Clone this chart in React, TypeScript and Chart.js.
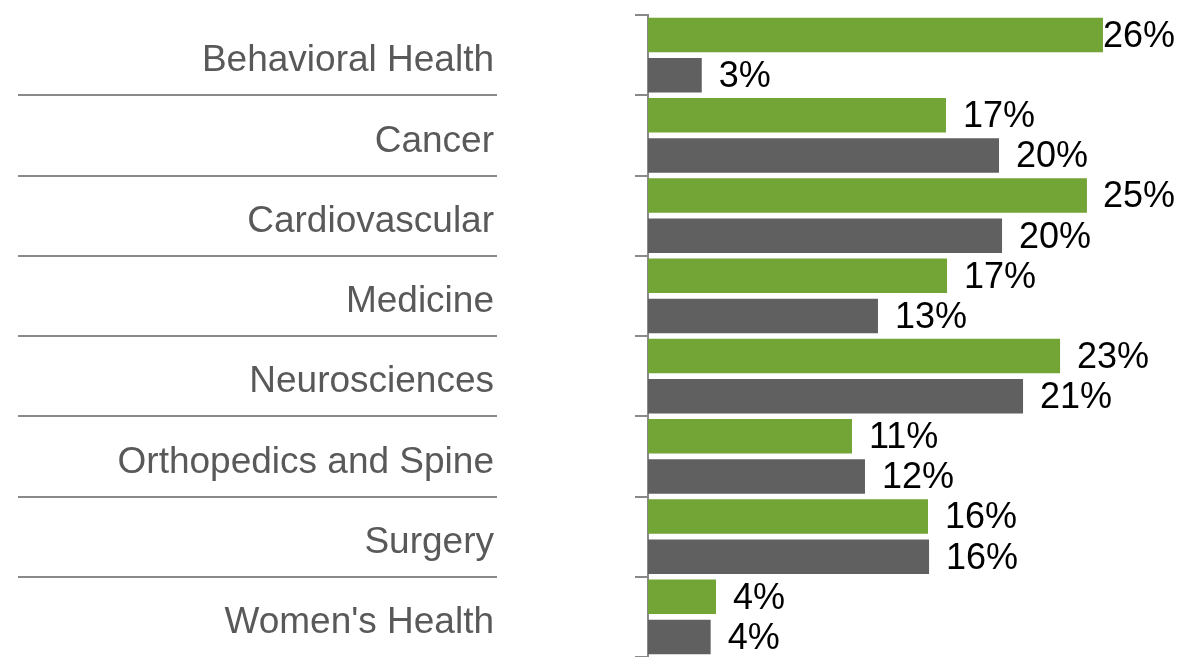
import React, { useEffect, useRef } from "react";
import { Chart, registerables } from "chart.js";

Chart.register(...registerables);

const categories = [
  "Behavioral Health",
  "Cancer",
  "Cardiovascular",
  "Medicine",
  "Neurosciences",
  "Orthopedics and Spine",
  "Surgery",
  "Women's Health",
];
const greenValues = [25.56, 16.74, 24.66, 16.8, 23.15, 11.46, 15.73, 3.82];
const grayValues = [3.02, 19.72, 19.89, 12.92, 21.07, 12.19, 15.79, 3.52];

const GREEN = "#72A536";
const GRAY = "#606060";
const LINE = "#898989";
const FONT = "'Liberation Sans', Arial, sans-serif";

const decorPlugin = {
  id: "decor",
  afterDraw(chart: any) {
    const ctx = chart.ctx;
    const yScale = chart.scales.y;
    const n = categories.length;
    ctx.save();
    ctx.strokeStyle = LINE;
    ctx.lineWidth = 2;
    for (let i = 1; i < n; i++) {
      const y = (yScale.getPixelForValue(i - 1) + yScale.getPixelForValue(i)) / 2;
      ctx.beginPath();
      ctx.moveTo(18, Math.round(y));
      ctx.lineTo(497, Math.round(y));
      ctx.stroke();
    }
    // category labels
    ctx.font = "37px " + FONT;
    ctx.fillStyle = "#595959";
    ctx.textAlign = "right";
    ctx.textBaseline = "middle";
    categories.forEach((c, i) => {
      ctx.fillText(c, 494, yScale.getPixelForValue(i) + 6);
    });
    // value labels
    ctx.font = "36px " + FONT;
    ctx.fillStyle = "#000000";
    ctx.textAlign = "left";
    chart.data.datasets.forEach((ds: any, di: number) => {
      const meta = chart.getDatasetMeta(di);
      meta.data.forEach((bar: any, i: number) => {
        const txt = Math.round(ds.data[i]) + "%";
        const w = ctx.measureText(txt).width;
        let x = bar.x + 17;
        if (x + w > chart.width - 8) x = chart.width - 8 - w;
        ctx.fillText(txt, x, bar.y + 2);
      });
    });
    ctx.restore();
  },
};

export default function App() {
  const ref = useRef<HTMLCanvasElement>(null);
  useEffect(() => {
    if (!ref.current) return;
    const chart = new Chart(ref.current, {
      type: "bar",
      data: {
        labels: categories,
        datasets: [
          { label: "A", data: greenValues, backgroundColor: GREEN, categoryPercentage: 1, barPercentage: 0.86 },
          { label: "B", data: grayValues, backgroundColor: GRAY, categoryPercentage: 1, barPercentage: 0.86 },
        ],
      },
      options: {
        indexAxis: "y",
        animation: false,
        responsive: false,
        maintainAspectRatio: false,
        layout: { padding: { top: 15, right: 1, bottom: 0, left: 635 } },
        plugins: { legend: { display: false }, tooltip: { enabled: false } },
        scales: {
          x: { display: false, min: 0, max: 30 },
          y: {
            offset: true,
            grid: {
              drawOnChartArea: false,
              drawTicks: true,
              tickLength: 13,
              color: LINE,
              lineWidth: 2,
            },
            border: { display: true, color: LINE, width: 2 },
            ticks: { display: false },
          },
        },
      },
      plugins: [decorPlugin],
    });
    return () => chart.destroy();
  }, []);
  return (
    <div style={{ position: "fixed", left: 0, top: 0, width: 1183, height: 657, background: "#fff" }}>
      <canvas ref={ref} width={1183} height={657} style={{ width: 1183, height: 657 }} />
    </div>
  );
}
